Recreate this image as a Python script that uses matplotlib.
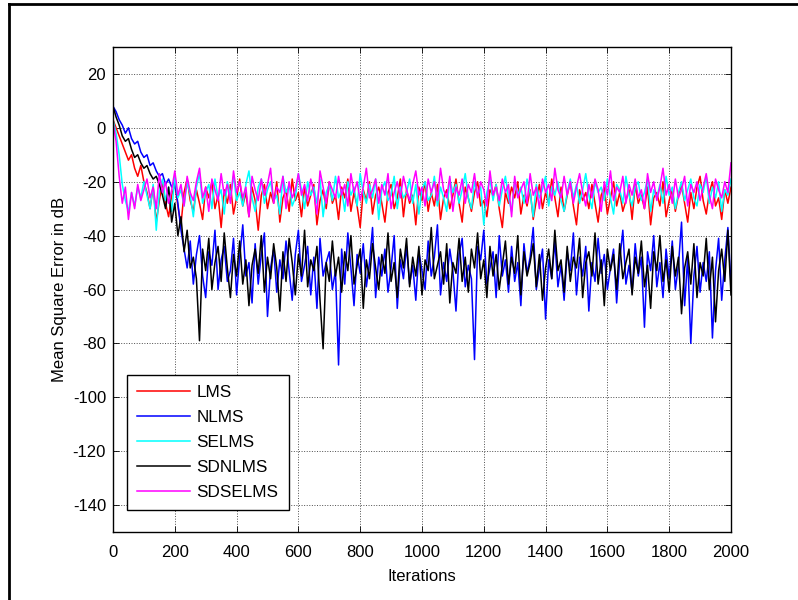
import numpy as np
import matplotlib
matplotlib.use("Agg")
import matplotlib.pyplot as plt
from matplotlib.lines import Line2D

plt.rcParams['font.family'] = ['Liberation Sans', 'DejaVu Sans']
plt.rcParams['axes.unicode_minus'] = False

# iteration index, sampled every 10 iterations
iterations = np.arange(0, 2001, 10)

# mean square error in dB
lms = [3, 0, -3, -6, -9, -12, -10, -15, -18, -14, -20,
       -24, -30, -22, -35, -27, -20, -28, -33, -25, -21, -29, -36, -24, -19, -27, -31, -23, -28, -34, -22,
       -26, -20, -30, -25, -37, -23, -28, -21, -32, -26, -19, -29, -24, -33, -22, -27, -38, -25, -21, -30,
       -24, -28, -20, -35, -26, -23, -31, -19, -27, -24, -33, -22, -29, -25, -21, -36, -27, -23, -30, -20,
       -28, -25, -34, -22, -26, -19, -31, -24, -29, -37, -23, -27, -20, -32, -25, -22, -28, -35, -24, -21,
       -30, -26, -19, -33, -23, -28, -25, -36, -22, -27, -20, -31, -24, -29, -21, -34, -26, -23, -30, -25,
       -19, -28, -35, -22, -26, -31, -24, -20, -29, -27, -33, -23, -25, -21, -30, -37, -24, -28, -22, -26,
       -20, -32, -25, -29, -23, -34, -27, -21, -30, -24, -28, -19, -26, -33, -22, -31, -25, -20, -29, -36,
       -23, -27, -24, -30, -21, -28, -35, -25, -22, -32, -26, -20, -29, -24, -31, -27, -23, -34, -21, -28,
       -25, -30, -22, -36, -26, -24, -29, -20, -33, -27, -23, -31, -25, -21, -28, -35, -24, -30, -22, -18,
       -27, -32, -24, -20, -29, -26, -34, -23, -28, -22]

nlms = [8, 6, 3, 1, -2, 0, -4, -6, -5, -9, -11, -10, -14, -13, -16, -18, -17, -21, -19, -22, -20,
        -28, -38, -45, -52, -42, -58, -47, -40, -55, -63, -46, -51, -38, -60, -49, -44, -57, -53, -41, -62,
        -48, -36, -55, -50, -65, -43, -58, -47, -39, -70, -52, -45, -61, -49, -56, -42, -53, -64, -47, -38,
        -57, -51, -44, -62, -48, -67, -41, -55, -50, -46, -60, -53, -88, -45, -58, -39, -52, -66, -47, -54,
        -43, -59, -50, -37, -63, -48, -55, -45, -61, -52, -40, -67, -49, -56, -44, -58, -51, -64, -46, -53,
        -60, -42, -55, -48, -36, -62, -50, -57, -45, -53, -68, -47, -41, -59, -51, -56, -86, -44, -49, -38,
        -58, -52, -46, -63, -40, -55, -49, -61, -44, -57, -50, -66, -43, -54, -48, -37, -60, -52, -45, -71,
        -49, -56, -42, -59, -51, -64, -46, -53, -39, -62, -48, -55, -44, -68, -50, -57, -41, -54, -47, -60,
        -52, -45, -65, -49, -38, -58, -51, -61, -43, -55, -48, -74, -46, -53, -40, -59, -50, -63, -45, -56,
        -42, -60, -51, -35, -66, -48, -80, -55, -44, -61, -50, -57, -46, -78, -53, -41, -64, -49, -37, -58]

selms = [3, -2, -10, -21, -27, -31, -24, -29, -22, -26, -20,
         -25, -30, -21, -38, -24, -19, -27, -22, -31, -18, -26, -23, -29, -20, -25, -33, -22, -17, -28, -24,
         -21, -30, -19, -26, -23, -32, -20, -25, -18, -27, -24, -29, -21, -16, -26, -31, -22, -19, -28, -23,
         -20, -27, -25, -32, -18, -24, -21, -29, -26, -17, -23, -30, -20, -25, -22, -28, -19, -33, -24, -21,
         -27, -18, -26, -23, -31, -20, -25, -22, -29, -17, -24, -28, -21, -26, -19, -34, -23, -20, -27, -25,
         -18, -30, -22, -26, -24, -19, -28, -21, -32, -23, -20, -27, -25, -18, -29, -22, -26, -31, -19, -24,
         -21, -28, -23, -17, -26, -30, -20, -25, -22, -36, -24, -19, -27, -21, -29, -23, -18, -26, -31, -20,
         -25, -22, -28, -19, -24, -33, -21, -26, -23, -18, -29, -22, -25, -20, -27, -31, -24, -19, -26, -21,
         -28, -23, -17, -25, -30, -20, -24, -22, -27, -19, -26, -32, -21, -23, -28, -18, -25, -29, -22, -20,
         -27, -24, -19, -31, -23, -26, -21, -28, -18, -25, -22, -30, -24, -20, -27, -23, -19, -26, -29, -21,
         -24, -18, -28, -22, -26, -20, -31, -23, -25, -19]

sdnlms = [8, 4, 1, -3, -5, -4, -8, -11, -10, -13, -15, -14, -17, -19, -18, -21,
          -25, -30, -22, -35, -28, -40, -33, -46, -38, -52,
          -48, -56, -79, -45, -53, -41, -60, -50, -44, -57, -39, -52, -63, -47, -55, -42, -58, -49, -66, -51,
          -45, -54, -40, -61, -48, -56, -43, -52, -68, -46, -57, -41, -50, -62, -47, -55, -38, -59, -49, -53,
          -44, -64, -82, -50, -57, -42, -55, -48, -61, -46, -53, -40, -58, -51, -45, -67, -49, -56, -43, -52,
          -60, -47, -54, -39, -57, -50, -63, -45, -52, -41, -59, -48, -55, -44, -62, -49, -53, -37, -56, -51,
          -46, -58, -43, -65, -50, -54, -41, -57, -48, -61, -45, -52, -39, -56, -49, -63, -44, -55, -47, -60,
          -51, -42, -58, -48, -54, -40, -62, -46, -55, -50, -43, -59, -47, -64, -52, -45, -56, -38, -53, -49,
          -61, -44, -57, -48, -52, -41, -63, -50, -46, -55, -39, -58, -49, -66, -45, -53, -47, -60, -43, -56,
          -50, -45, -62, -48, -54, -42, -59, -51, -67, -46, -53, -40, -57, -49, -61, -44, -55, -48, -69, -52,
          -46, -58, -43, -63, -50, -55, -41, -60, -48, -72, -53, -45, -57, -38, -62]

sdselms = [2, -5, -18, -28, -22, -34, -24, -30, -21, -27, -23,
           -19, -26, -22, -30, -17, -24, -20, -28, -23, -16, -25, -21, -29, -18, -24, -27, -20, -15, -26, -22,
           -31, -19, -23, -27, -17, -25, -21, -28, -16, -24, -20, -26, -22, -33, -18, -23, -27, -19, -25, -21,
           -15, -28, -22, -24, -18, -30, -20, -26, -23, -17, -25, -21, -27, -19, -24, -32, -16, -22, -28, -20,
           -23, -26, -18, -25, -21, -29, -17, -24, -20, -27, -22, -15, -26, -23, -19, -28, -21, -25, -17, -30,
           -24, -20, -26, -18, -23, -27, -21, -16, -25, -22, -29, -19, -24, -20, -27, -15, -23, -26, -18, -31,
           -22, -25, -19, -28, -21, -24, -17, -26, -20, -23, -29, -16, -25, -22, -27, -19, -24, -21, -33, -18,
           -26, -23, -20, -28, -17, -25, -22, -30, -19, -24, -21, -27, -15, -23, -26, -18, -25, -20, -28, -22,
           -17, -24, -29, -21, -26, -19, -23, -31, -20, -25, -16, -27, -22, -24, -18, -28, -21, -25, -19, -26,
           -23, -30, -17, -24, -20, -27, -22, -15, -25, -21, -28, -19, -26, -23, -18, -29, -21, -24, -20, -27,
           -22, -17, -25, -30, -19, -23, -26, -20, -24, -13]

names = ['LMS', 'NLMS', 'SELMS', 'SDNLMS', 'SDSELMS']
colors = ['red', 'blue', 'cyan', 'black', 'magenta']

fig = plt.figure(figsize=(7.98, 6.0), dpi=100)
ax = fig.add_axes([0.1416, 0.1133, 0.7744, 0.8084])

for y, name, c in zip([lms, nlms, selms, sdnlms, sdselms], names, colors):
    ax.plot(iterations, y, color=c, lw=1.1, label=name)

ax.set_xlim(0, 2000)
ax.set_ylim(-150, 30)
ax.set_xticks(range(0, 2001, 200))
ax.set_yticks(range(-140, 21, 20))
ax.tick_params(direction='in', top=True, right=True, labelsize=12, length=4, width=0.6, pad=5)
ax.tick_params(axis='x', pad=9)
ax.grid(True, linestyle=':', color='0.3', linewidth=0.7)
for s in ax.spines.values():
    s.set_linewidth(1.0)
ax.set_xlabel('Iterations', fontsize=12, labelpad=7)
ax.set_ylabel('Mean Square Error in dB', fontsize=12, labelpad=4)

leg = ax.legend(loc='lower left', bbox_to_anchor=(0.022, 0.045), fontsize=12.3,
                fancybox=False, edgecolor='black', framealpha=1, handlelength=3.1,
                labelspacing=0.58, borderaxespad=0, handletextpad=0.4, borderpad=0.6)
leg.get_frame().set_linewidth(1.0)

# outer figure frame
fig.add_artist(Line2D([0.011, 0.011], [0, 0.993], color='black', lw=2))
fig.add_artist(Line2D([0.011, 1.0], [0.993, 0.993], color='black', lw=2))

fig.savefig('out.png', dpi=100)
